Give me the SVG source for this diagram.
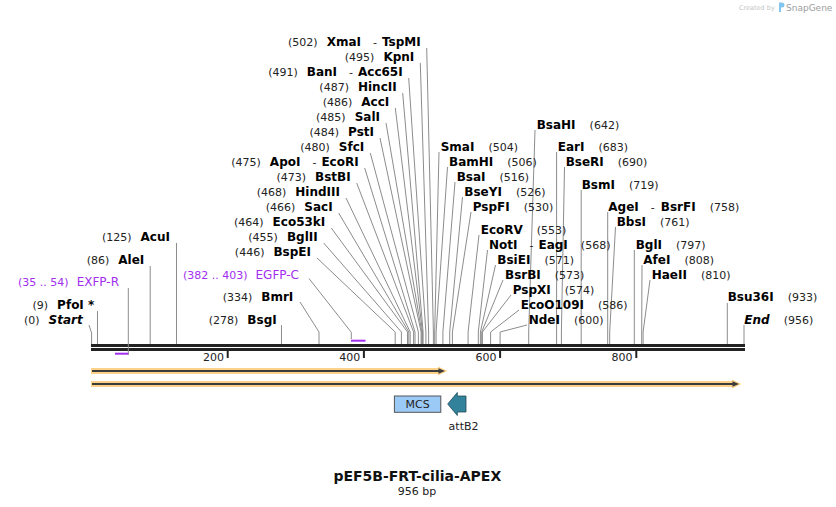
<svg xmlns="http://www.w3.org/2000/svg" width="836" height="507" viewBox="0 0 836 507">
<style>
text{font-family:"DejaVu Sans",Verdana,sans-serif;}
.n{font-size:11px;fill:#222;}
.b{font-size:12px;font-weight:bold;fill:#000;}
.bi{font-size:12px;font-weight:bold;font-style:italic;fill:#000;}
.p{font-size:11px;fill:#a22ef0;}
.pb{font-size:12px;fill:#a22ef0;}
.c path{fill:none;stroke:#8c8c8c;stroke-width:1;}
.pl{fill:none;stroke:#a22ef0;stroke-width:1.3;}
.pr{fill:#a22ef0;}
.bb{fill:#222;}
.tk{stroke:#222;stroke-width:2;}
.glow{fill:#fcd28a;}
.shaft{stroke:#3c3c3c;stroke-width:2;}
.head{fill:#3c3c3c;}
</style>
<rect width="836" height="507" fill="#fff"/>

<!-- watermark -->
<g id="watermark">
<text x="739" y="10" style="font-size:6.5px;fill:#c4c4c4">Created by</text>
<path d="M779 2.5 h3 a2.5 2.5 0 0 1 0 5 h-1 v4.5 h-2 z" fill="#82c6ef"/>
<text x="786" y="10.5" style="font-size:9px;fill:#9c9c9c">SnapGene</text>
</g>

<!-- backbone -->
<g id="backbone">
<rect class="bb" x="91" y="344" width="654" height="3"/>
<rect class="bb" x="91" y="348" width="654" height="3"/>
<line class="tk" x1="227.7" y1="350" x2="227.7" y2="358"/>
<line class="tk" x1="363.9" y1="350" x2="363.9" y2="358"/>
<line class="tk" x1="500.1" y1="350" x2="500.1" y2="358"/>
<line class="tk" x1="636.3" y1="350" x2="636.3" y2="358"/>
<text class="n" x="224" y="361" text-anchor="end">200</text>
<text class="n" x="360.2" y="361" text-anchor="end">400</text>
<text class="n" x="496.4" y="361" text-anchor="end">600</text>
<text class="n" x="632.6" y="361" text-anchor="end">800</text>
</g>

<!-- connectors -->
<g id="connectors" class="c">
<path d="M426.7 48 L433.4 332 V344"/>
<path d="M420.3 63 L428.6 332 V344"/>
<path d="M408.7 78 L425.9 332 V344"/>
<path d="M402.7 93 L423.1 332 V344"/>
<path d="M395.3 108 L422.5 332 V344"/>
<path d="M386 123 L421.8 332 V344"/>
<path d="M380 138 L421.1 332 V344"/>
<path d="M370.3 153 L418.4 332 V344"/>
<path d="M364.7 168 L415 332 V344"/>
<path d="M356.7 183 L413.6 332 V344"/>
<path d="M346 198 L410.2 332 V344"/>
<path d="M338.7 213 L408.8 332 V344"/>
<path d="M331.3 228 L407.5 332 V344"/>
<path d="M323.7 243 L401.4 332 V344"/>
<path d="M317 258 L395.2 332 V344"/>
<path d="M300 302 L319 332 V344"/>
<path d="M281.5 325 V344"/>
<path d="M89 325 L91.6 333 V344"/>
<path d="M97.5 311 V344"/>
<path d="M150.2 266 V344"/>
<path d="M176.5 243 V344"/>
<path d="M535 130 L528.7 332 V344"/>
<path d="M439 152 L434.7 332 V344"/>
<path d="M556.6 152 V344"/>
<path d="M447.5 167 L436.1 332 V344"/>
<path d="M564.5 167 L561.4 332 V344"/>
<path d="M455 182 L442.9 332 V344"/>
<path d="M581.2 190 V344"/>
<path d="M462.5 197 L449.7 332 V344"/>
<path d="M471 212 L452.4 332 V344"/>
<path d="M607.7 212 V344"/>
<path d="M615.5 227 L609.7 332 V344"/>
<path d="M479 235 L468.1 332 V344"/>
<path d="M487.5 250 L478.3 332 V344"/>
<path d="M634.3 250 V344"/>
<path d="M495.5 265 L480.4 332 V344"/>
<path d="M642 265 L641.7 332 V344"/>
<path d="M503 280 L481.7 332 V344"/>
<path d="M650 280 L643.1 332 V344"/>
<path d="M511 295 L482.4 332 V344"/>
<path d="M519 310 L490.6 332 V344"/>
<path d="M727.3 303 V344"/>
<path d="M527 325 L500.1 332 V344"/>
<path d="M744 325 V344"/>
<path class="pl" d="M128.3 288 V355"/>
<path class="pl" d="M309 278.5 L351.3 332.3 V339"/>
</g>

<!-- primers -->
<g id="primer-EXFP-R">
<rect class="pr" x="115" y="352.7" width="13.3" height="2"/>
<text x="119" y="286" text-anchor="end"><tspan class="p">(35 .. 54)</tspan><tspan class="pb" dx="8">EXFP-R</tspan></text>
</g>
<g id="primer-EGFP-C">
<rect class="pr" x="351" y="339.7" width="14.5" height="2"/>
<text x="299" y="279" text-anchor="end"><tspan class="p">(382 .. 403)</tspan><tspan class="pb" dx="8">EGFP-C</tspan></text>
</g>

<!-- left labels -->
<g id="site-XmaI"><text x="420.7" y="46" text-anchor="end"><tspan class="n">(502)</tspan><tspan class="b" dx="9">XmaI</tspan><tspan class="n" dx="12">-</tspan><tspan class="b" dx="5">TspMI</tspan></text></g>
<g id="site-KpnI"><text x="414.3" y="61" text-anchor="end"><tspan class="n">(495)</tspan><tspan class="b" dx="9">KpnI</tspan></text></g>
<g id="site-BanI"><text x="402.7" y="76" text-anchor="end"><tspan class="n">(491)</tspan><tspan class="b" dx="9">BanI</tspan><tspan class="n" dx="12">-</tspan><tspan class="b" dx="5">Acc65I</tspan></text></g>
<g id="site-HincII"><text x="396.7" y="91" text-anchor="end"><tspan class="n">(487)</tspan><tspan class="b" dx="9">HincII</tspan></text></g>
<g id="site-AccI"><text x="389.3" y="106" text-anchor="end"><tspan class="n">(486)</tspan><tspan class="b" dx="9">AccI</tspan></text></g>
<g id="site-SalI"><text x="380" y="121" text-anchor="end"><tspan class="n">(485)</tspan><tspan class="b" dx="9">SalI</tspan></text></g>
<g id="site-PstI"><text x="374" y="136" text-anchor="end"><tspan class="n">(484)</tspan><tspan class="b" dx="9">PstI</tspan></text></g>
<g id="site-SfcI"><text x="364.3" y="151" text-anchor="end"><tspan class="n">(480)</tspan><tspan class="b" dx="9">SfcI</tspan></text></g>
<g id="site-ApoI"><text x="358.7" y="166" text-anchor="end"><tspan class="n">(475)</tspan><tspan class="b" dx="9">ApoI</tspan><tspan class="n" dx="12">-</tspan><tspan class="b" dx="5">EcoRI</tspan></text></g>
<g id="site-BstBI"><text x="350.7" y="181" text-anchor="end"><tspan class="n">(473)</tspan><tspan class="b" dx="9">BstBI</tspan></text></g>
<g id="site-HindIII"><text x="340" y="196" text-anchor="end"><tspan class="n">(468)</tspan><tspan class="b" dx="9">HindIII</tspan></text></g>
<g id="site-SacI"><text x="332.7" y="211" text-anchor="end"><tspan class="n">(466)</tspan><tspan class="b" dx="9">SacI</tspan></text></g>
<g id="site-Eco53kI"><text x="325.3" y="226" text-anchor="end"><tspan class="n">(464)</tspan><tspan class="b" dx="9">Eco53kI</tspan></text></g>
<g id="site-BglII"><text x="317.7" y="241" text-anchor="end"><tspan class="n">(455)</tspan><tspan class="b" dx="9">BglII</tspan></text></g>
<g id="site-BspEI"><text x="311" y="256" text-anchor="end"><tspan class="n">(446)</tspan><tspan class="b" dx="9">BspEI</tspan></text></g>
<g id="site-BmrI"><text x="293.3" y="301" text-anchor="end"><tspan class="n">(334)</tspan><tspan class="b" dx="9">BmrI</tspan></text></g>
<g id="site-BsgI"><text x="276.7" y="324" text-anchor="end"><tspan class="n">(278)</tspan><tspan class="b" dx="9">BsgI</tspan></text></g>
<g id="site-Start"><text x="82.7" y="324" text-anchor="end"><tspan class="n">(0)</tspan><tspan class="bi" dx="9">Start</tspan></text></g>
<g id="site-PfoI"><text x="94.3" y="309" text-anchor="end"><tspan class="n">(9)</tspan><tspan class="b" dx="9">PfoI *</tspan></text></g>
<g id="site-AleI"><text x="144.3" y="264" text-anchor="end"><tspan class="n">(86)</tspan><tspan class="b" dx="9">AleI</tspan></text></g>
<g id="site-AcuI"><text x="170" y="241" text-anchor="end"><tspan class="n">(125)</tspan><tspan class="b" dx="9">AcuI</tspan></text></g>

<!-- right labels -->
<g id="site-BsaHI"><text x="536.7" y="129"><tspan class="b">BsaHI</tspan><tspan class="n" dx="14">(642)</tspan></text></g>
<g id="site-SmaI"><text x="440.7" y="151"><tspan class="b">SmaI</tspan><tspan class="n" dx="14">(504)</tspan></text></g>
<g id="site-EarI"><text x="557.7" y="151"><tspan class="b">EarI</tspan><tspan class="n" dx="14">(683)</tspan></text></g>
<g id="site-BamHI"><text x="449" y="166"><tspan class="b">BamHI</tspan><tspan class="n" dx="14">(506)</tspan></text></g>
<g id="site-BseRI"><text x="565.7" y="166"><tspan class="b">BseRI</tspan><tspan class="n" dx="14">(690)</tspan></text></g>
<g id="site-BsaI"><text x="456.7" y="181"><tspan class="b">BsaI</tspan><tspan class="n" dx="14">(516)</tspan></text></g>
<g id="site-BsmI"><text x="581.7" y="189"><tspan class="b">BsmI</tspan><tspan class="n" dx="14">(719)</tspan></text></g>
<g id="site-BseYI"><text x="464.3" y="196"><tspan class="b">BseYI</tspan><tspan class="n" dx="14">(526)</tspan></text></g>
<g id="site-PspFI"><text x="472.7" y="211"><tspan class="b">PspFI</tspan><tspan class="n" dx="14">(530)</tspan></text></g>
<g id="site-AgeI"><text x="608.3" y="211"><tspan class="b">AgeI</tspan><tspan class="n" dx="12">-</tspan><tspan class="b" dx="6">BsrFI</tspan><tspan class="n" dx="14">(758)</tspan></text></g>
<g id="site-BbsI"><text x="616.7" y="226"><tspan class="b">BbsI</tspan><tspan class="n" dx="14">(761)</tspan></text></g>
<g id="site-EcoRV"><text x="480.7" y="234"><tspan class="b">EcoRV</tspan><tspan class="n" dx="14">(553)</tspan></text></g>
<g id="site-NotI"><text x="489" y="249"><tspan class="b">NotI</tspan><tspan class="n" dx="12">-</tspan><tspan class="b" dx="5">EagI</tspan><tspan class="n" dx="13">(568)</tspan></text></g>
<g id="site-BglI"><text x="635.7" y="249"><tspan class="b">BglI</tspan><tspan class="n" dx="14">(797)</tspan></text></g>
<g id="site-BsiEI"><text x="497.3" y="264"><tspan class="b">BsiEI</tspan><tspan class="n" dx="14">(571)</tspan></text></g>
<g id="site-AfeI"><text x="643.3" y="264"><tspan class="b">AfeI</tspan><tspan class="n" dx="14">(808)</tspan></text></g>
<g id="site-BsrBI"><text x="505" y="279"><tspan class="b">BsrBI</tspan><tspan class="n" dx="14">(573)</tspan></text></g>
<g id="site-HaeII"><text x="651.7" y="279"><tspan class="b">HaeII</tspan><tspan class="n" dx="14">(810)</tspan></text></g>
<g id="site-PspXI"><text x="512.7" y="294"><tspan class="b">PspXI</tspan><tspan class="n" dx="14">(574)</tspan></text></g>
<g id="site-EcoO109I"><text x="520.7" y="309"><tspan class="b">EcoO109I</tspan><tspan class="n" dx="14">(586)</tspan></text></g>
<g id="site-Bsu36I"><text x="727.7" y="301"><tspan class="b">Bsu36I</tspan><tspan class="n" dx="14">(933)</tspan></text></g>
<g id="site-NdeI"><text x="528.7" y="324"><tspan class="b">NdeI</tspan><tspan class="n" dx="14">(600)</tspan></text></g>
<g id="site-End"><text x="744.3" y="324"><tspan class="bi">End</tspan><tspan class="n" dx="14">(956)</tspan></text></g>

<!-- features -->
<g id="feature-arrow1">
<polygon class="glow" points="91,368 438,368 438,366.5 447.5,371 438,375.5 438,374 91,374"/>
<line class="shaft" x1="92" y1="371" x2="440" y2="371"/>
<polygon class="head" points="438.5,368.2 445,371 438.5,373.8"/>
</g>
<g id="feature-arrow2">
<polygon class="glow" points="91,381 732,381 732,379.5 741.5,384 732,388.5 732,387 91,387"/>
<line class="shaft" x1="92" y1="384" x2="734" y2="384"/>
<polygon class="head" points="732.5,381.2 739,384 732.5,386.8"/>
</g>
<g id="feature-MCS">
<rect x="394.4" y="396" width="46.4" height="16.3" fill="#9ccaf7" stroke="#555" stroke-width="1"/>
<text class="n" x="417.6" y="408" text-anchor="middle">MCS</text>
</g>
<g id="feature-attB2">
<polygon points="447.7,404 457.3,392.5 457.3,396 466,396 466,412 457.3,412 457.3,415.5" fill="#31829a" stroke="#234c58" stroke-width="0.8"/>
<text class="n" x="448.6" y="430">attB2</text>
</g>

<!-- title -->
<g id="title">
<text x="417.3" y="481" text-anchor="middle" style="font-size:14px;font-weight:bold;fill:#111">pEF5B-FRT-cilia-APEX</text>
<text x="417" y="495" text-anchor="middle" style="font-size:11px;fill:#222">956 bp</text>
</g>
</svg>
